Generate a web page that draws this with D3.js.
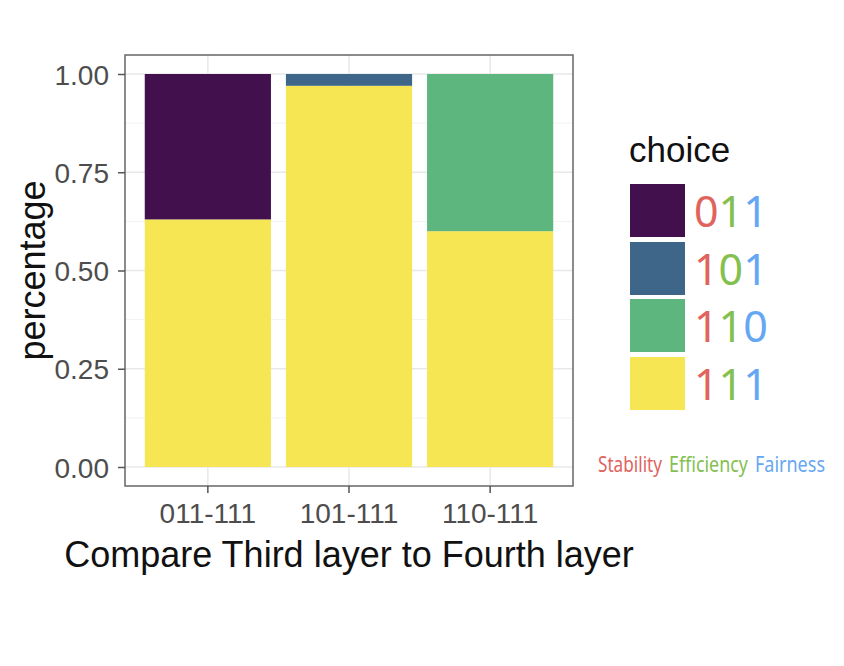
<!DOCTYPE html>
<html>
<head>
<meta charset="utf-8">
<script src="https://cdn.jsdelivr.net/npm/d3@7"></script>
<style>
  body { margin: 0; background: #fff; }
  svg { display: block; font-family: "Liberation Sans", Arial, sans-serif; }
</style>
</head>
<body>
<div id="chart"></div>
<script>
// comparison groups on the x axis
const groups = ['011-111', '101-111', '110-111'];
// choice categories, top of stack first
const choices = ['011', '101', '110', '111'];
const choiceColors = ['#41104d', '#3d6689', '#5db67d', '#f7e654'];
// share of each choice per group
const share011 = [0.37, 0.00, 0.00];
const share101 = [0.00, 0.03, 0.00];
const share110 = [0.00, 0.00, 0.40];
const share111 = [0.63, 0.97, 0.60];
const yTicks = [0, 0.25, 0.5, 0.75, 1];
const digitColors = ['#e0635d', '#84c050', '#66a7f3'];
const noteWords = ['Stability', 'Efficiency', 'Fairness'];

const width = 844, height = 666;
const panel = { left: 125, right: 573, top: 55, bottom: 486 };

const svg = d3.select('#chart').append('svg')
    .attr('width', width).attr('height', height);

const x = d3.scaleBand().domain(groups)
    .range([panel.left, panel.right]).paddingInner(0.106).paddingOuter(0.14);
const y = d3.scaleLinear().domain([0, 1]).range([467, 74]);
const color = d3.scaleOrdinal().domain(choices).range(choiceColors);

// build stacked table, 111 at the bottom
const rows = groups.map((g, i) => ({
    group: g, '011': share011[i], '101': share101[i], '110': share110[i], '111': share111[i]
}));
const stacked = d3.stack().keys(choices.slice().reverse())(rows);

// grid lines
const minor = [0.125, 0.375, 0.625, 0.875];
svg.append('g').selectAll('line').data(minor).join('line')
    .attr('x1', panel.left).attr('x2', panel.right)
    .attr('y1', d => y(d)).attr('y2', d => y(d))
    .attr('stroke', '#f2f2f2').attr('stroke-width', 1);
svg.append('g').selectAll('line').data(yTicks).join('line')
    .attr('x1', panel.left).attr('x2', panel.right)
    .attr('y1', d => y(d)).attr('y2', d => y(d))
    .attr('stroke', '#e8e8e8').attr('stroke-width', 1.5);
svg.append('g').selectAll('line').data(groups).join('line')
    .attr('x1', d => x(d) + x.bandwidth() / 2).attr('x2', d => x(d) + x.bandwidth() / 2)
    .attr('y1', panel.top).attr('y2', panel.bottom)
    .attr('stroke', '#e8e8e8').attr('stroke-width', 1.5);

// bars
svg.append('g').selectAll('g').data(stacked).join('g')
    .attr('fill', d => color(d.key))
    .selectAll('rect').data(d => d).join('rect')
    .attr('x', d => x(d.data.group))
    .attr('width', x.bandwidth())
    .attr('y', d => y(d[1]))
    .attr('height', d => y(d[0]) - y(d[1]));

// panel border
svg.append('rect')
    .attr('x', panel.left).attr('y', panel.top)
    .attr('width', panel.right - panel.left).attr('height', panel.bottom - panel.top)
    .attr('fill', 'none').attr('stroke', '#666').attr('stroke-width', 1.5);

// axes
const yAxis = svg.append('g').attr('transform', `translate(${panel.left},0)`)
    .call(d3.axisLeft(y).tickValues(yTicks).tickFormat(d3.format('.2f')).tickSize(7).tickPadding(9));
const xAxis = svg.append('g').attr('transform', `translate(0,${panel.bottom})`)
    .call(d3.axisBottom(x).tickSize(7).tickPadding(10));
[yAxis, xAxis].forEach(a => {
    a.select('.domain').remove();
    a.selectAll('.tick line').attr('stroke', '#555').attr('stroke-width', 1.5);
    a.selectAll('.tick text').attr('fill', '#4d4d4d').attr('font-size', 28);
});
yAxis.selectAll('.tick text').attr('dy', '0.36em');

// axis titles
svg.append('text')
    .attr('x', 349).attr('y', 567)
    .attr('text-anchor', 'middle').attr('font-size', 36).attr('fill', '#111')
    .text('Compare Third layer to Fourth layer');
svg.append('text')
    .attr('transform', `translate(45,${(y(0) + y(1)) / 2}) rotate(-90)`)
    .attr('text-anchor', 'middle').attr('font-size', 36).attr('fill', '#111')
    .text('percentage');

// legend
svg.append('text').attr('x', 629).attr('y', 162)
    .attr('font-size', 35).attr('fill', '#111').text('choice');
const keyTops = [184, 242, 299, 357];
const legend = svg.append('g').selectAll('g').data(choices).join('g')
    .attr('transform', (d, i) => `translate(630,${keyTops[i]})`);
legend.append('rect')
    .attr('width', 55).attr('height', 53)
    .attr('fill', d => color(d));
legend.append('text')
    .attr('x', 64).attr('y', 43)
    .attr('font-family', '"Noto Sans", sans-serif').attr('font-size', 43)
    .selectAll('tspan').data(d => d.split('')).join('tspan')
    .attr('fill', (c, i) => digitColors[i])
    .text(c => c);

// note under legend
const noteX = [598, 669, 755];
const noteW = [64, 79, 70];
svg.append('g').selectAll('text').data(noteWords).join('text')
    .attr('x', (w, i) => noteX[i]).attr('y', 472)
    .attr('font-family', '"Noto Sans", sans-serif').attr('font-size', 21)
    .attr('textLength', (w, i) => noteW[i]).attr('lengthAdjust', 'spacingAndGlyphs')
    .attr('fill', (w, i) => digitColors[i])
    .text(w => w);
</script>
</body>
</html>
